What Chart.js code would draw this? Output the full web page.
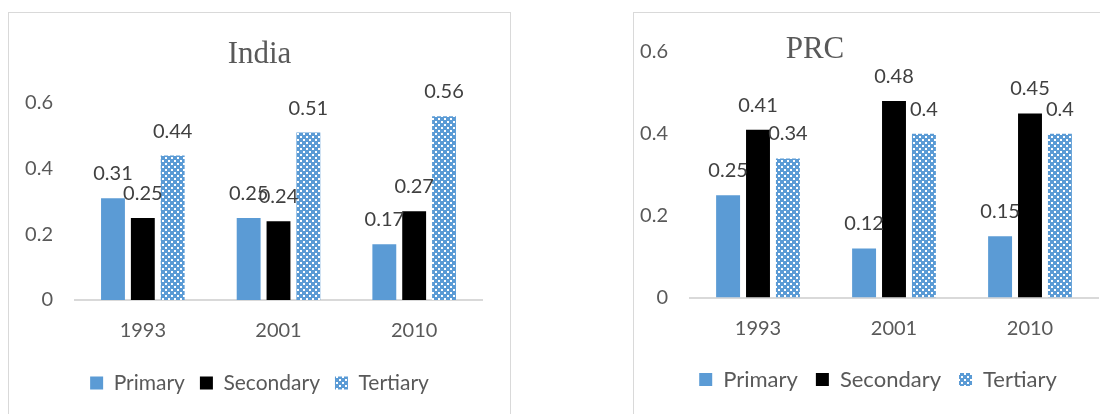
<!DOCTYPE html>
<html>
<head>
<meta charset="utf-8">
<script src="https://cdn.jsdelivr.net/npm/chart.js@4.4.1/dist/chart.umd.min.js"></script>
<style>
  html, body { margin: 0; padding: 0; background: #fff; width: 1100px; height: 414px; overflow: hidden; position: relative; }
  .box { position: absolute; border: 1px solid #d9d9d9; box-sizing: border-box; }
  canvas { position: absolute; }
</style>
</head>
<body>
<div class="box" style="left:8px;top:12px;width:503px;height:420px;"></div>
<div class="box" style="left:633px;top:12px;width:490px;height:420px;"></div>
<canvas id="c1" style="left:9px;top:13px;width:501px;height:401px;" width="501" height="401"></canvas>
<canvas id="c2" style="left:634px;top:13px;width:488px;height:401px;" width="488" height="401"></canvas>
<script>
const categories = ['1993', '2001', '2010'];
const seriesNames = ['Primary', 'Secondary', 'Tertiary'];
const indiaPrimary = [0.31, 0.25, 0.17];
const indiaSecondary = [0.25, 0.24, 0.27];
const indiaTertiary = [0.44, 0.51, 0.56];
const prcPrimary = [0.25, 0.12, 0.15];
const prcSecondary = [0.41, 0.48, 0.45];
const prcTertiary = [0.34, 0.4, 0.4];
const yTicks = [0, 0.2, 0.4, 0.6];

const BLUE = '#5b9bd5';
function makePattern() {
  const c = document.createElement('canvas');
  c.width = 6; c.height = 6;
  const x = c.getContext('2d');
  x.fillStyle = BLUE; x.fillRect(0, 0, 6, 6);
  x.fillStyle = '#ffffff';
  x.fillRect(0, 0, 2, 2);
  x.fillRect(3, 3, 2, 2);
  return x.createPattern(c, 'repeat');
}
const FONT = 'Lato, "Open Sans", sans-serif';

const dataLabels = {
  id: 'dataLabels',
  afterDatasetsDraw(chart) {
    const ctx = chart.ctx;
    ctx.save();
    ctx.font = '20px ' + FONT;
    ctx.fillStyle = '#404040';
    ctx.textAlign = 'center';
    ctx.textBaseline = 'alphabetic';
    chart.data.datasets.forEach((ds, i) => {
      chart.getDatasetMeta(i).data.forEach((bar, j) => {
        ctx.fillText(String(ds.data[j]), bar.x, bar.y - 18);
      });
    });
    ctx.restore();
  }
};
const floatTitle = {
  id: 'floatTitle',
  afterDraw(chart, args, opts) {
    const ctx = chart.ctx;
    ctx.save();
    ctx.font = '31px "Liberation Serif", "Times New Roman", serif';
    ctx.fillStyle = '#595959';
    ctx.textAlign = 'center';
    ctx.textBaseline = 'middle';
    ctx.fillText(opts.text, opts.x, opts.y);
    ctx.restore();
  }
};

function makeChart(id, title, p, s, t, cfg) {
  const pattern = makePattern();
  return new Chart(document.getElementById(id), {
    type: 'bar',
    data: {
      labels: categories,
      datasets: [
        { label: seriesNames[0], data: p, backgroundColor: BLUE },
        { label: seriesNames[1], data: s, backgroundColor: '#000000' },
        { label: seriesNames[2], data: t, backgroundColor: pattern }
      ]
    },
    plugins: [dataLabels, floatTitle],
    options: {
      responsive: false,
      animation: false,
      devicePixelRatio: 1,
      datasets: { bar: { categoryPercentage: 0.66, barPercentage: 0.8 } },
      layout: { padding: { top: cfg.top, right: 0, bottom: cfg.bottom, left: 0 } },
      plugins: {
        floatTitle: { text: title, x: cfg.tx, y: cfg.ty },
        title: { display: false },
        tooltip: { enabled: false },
        legend: {
          position: 'bottom',
          labels: {
            boxWidth: 13, boxHeight: 13, padding: cfg.lp,
            color: '#595959',
            font: { family: FONT, size: cfg.lf }
          }
        }
      },
      scales: {
        x: {
          grid: { display: false, drawTicks: false },
          border: { display: true, color: '#d9d9d9', width: 2 },
          ticks: { color: '#595959', font: { family: FONT, size: 20 }, padding: 19 },
          afterFit(sc) { sc.height = cfg.xh; }
        },
        y: {
          min: 0, max: 0.6,
          afterBuildTicks(sc) { sc.ticks = yTicks.map(v => ({ value: v })); },
          grid: { display: false, drawTicks: false },
          border: { display: false },
          ticks: { color: '#595959', font: { family: FONT, size: 20 }, padding: 22,
                   callback: v => String(v) },
          afterFit(sc) { sc.width = cfg.yw; }
        },
        spacer: {
          type: 'linear', position: 'right', display: true,
          grid: { display: false, drawTicks: false },
          border: { display: false },
          ticks: { display: false },
          afterFit(sc) { sc.width = cfg.right; }
        }
      }
    }
  });
}

makeChart('c1', 'India', indiaPrimary, indiaSecondary, indiaTertiary,
  { top: 90, right: 28, bottom: 10.5, xh: 57.5, yw: 66, tx: 250.5, ty: 42, lp: 15, lf: 21 });
makeChart('c2', 'PRC', prcPrimary, prcSecondary, prcTertiary,
  { top: 39, right: 24, bottom: 13.5, xh: 53, yw: 56, tx: 181, ty: 37, lp: 18, lf: 22 });
</script>
</body>
</html>
